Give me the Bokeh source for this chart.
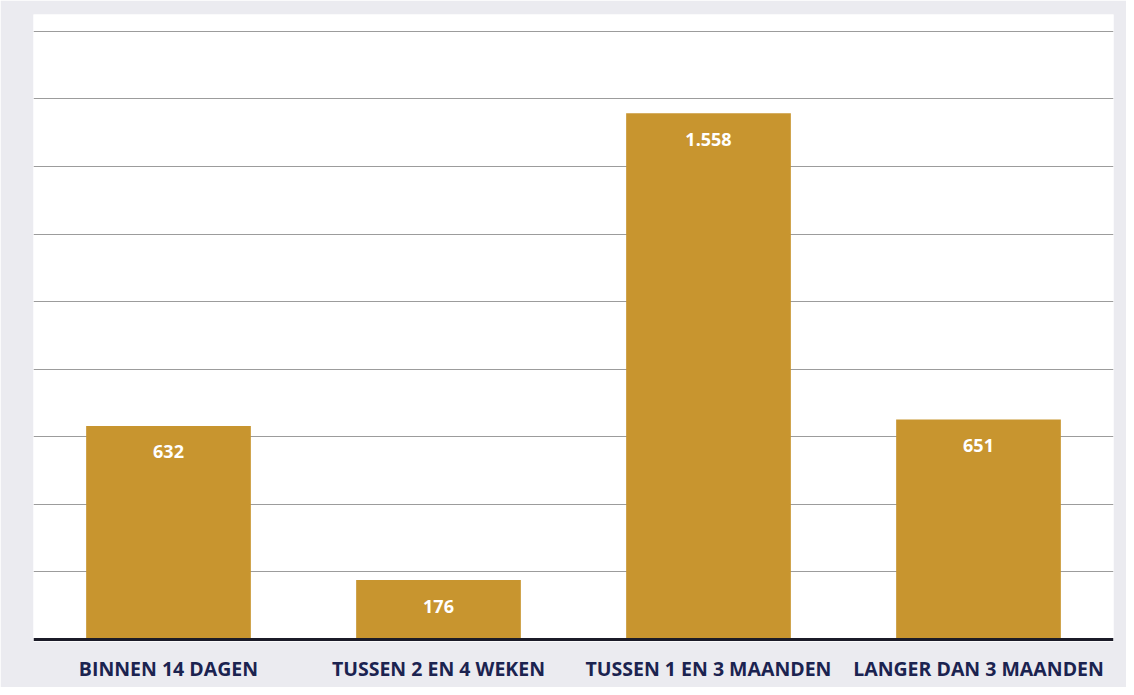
from bokeh.plotting import figure
from bokeh.models import ColumnDataSource, LabelSet, Span, FixedTicker, Range1d
from bokeh.core.properties import value
from bokeh.embed import file_html
from bokeh.resources import INLINE

categories = ["BINNEN 14 DAGEN", "TUSSEN 2 EN 4 WEKEN", "TUSSEN 1 EN 3 MAANDEN", "LANGER DAN 3 MAANDEN"]
values = [632, 176, 1558, 651]
value_labels = ["632", "176", "1.558", "651"]
grid_ticks = [200, 400, 600, 800, 1000, 1200, 1400, 1600, 1800]

source = ColumnDataSource(dict(cat=categories, val=values, lab=value_labels))

p = figure(x_range=categories, y_range=Range1d(-6, 1850), width=1126, height=687,
           output_backend="svg", toolbar_location=None,
           min_border_left=33, min_border_right=13, min_border_top=14, min_border_bottom=46)

p.vbar(x="cat", top="val", width=0.61, source=source, color="#c8952f", line_color=None)

p.background_fill_color = "#ffffff"
p.border_fill_color = "#ebebf0"
p.outline_line_color = None

p.yaxis.visible = False
p.ygrid.ticker = FixedTicker(ticks=grid_ticks)
p.ygrid.grid_line_color = "#9c9c9c"
p.ygrid.grid_line_width = 1
p.xgrid.grid_line_color = None

p.xaxis.axis_line_color = None
p.xaxis.major_tick_line_color = None
p.xaxis.minor_tick_line_color = None
p.xaxis.major_label_text_font = "Open Sans"
p.xaxis.major_label_text_font_style = "bold"
p.xaxis.major_label_text_font_size = "19.5px"
p.xaxis.major_label_text_color = "#1b2350"
p.xaxis.major_label_standoff = 7

base = Span(location=0, dimension="width", line_color="#1b1b28", line_width=3)
p.add_layout(base)

labels = LabelSet(x="cat", y="val", text="lab", source=source, y_offset=-26,
                  text_align="center", text_baseline="middle",
                  text_color="white", text_font=value("Open Sans"), text_font_style="bold",
                  text_font_size="18px")
p.add_layout(labels)

open("out.html", "w").write(file_html(p, INLINE))
